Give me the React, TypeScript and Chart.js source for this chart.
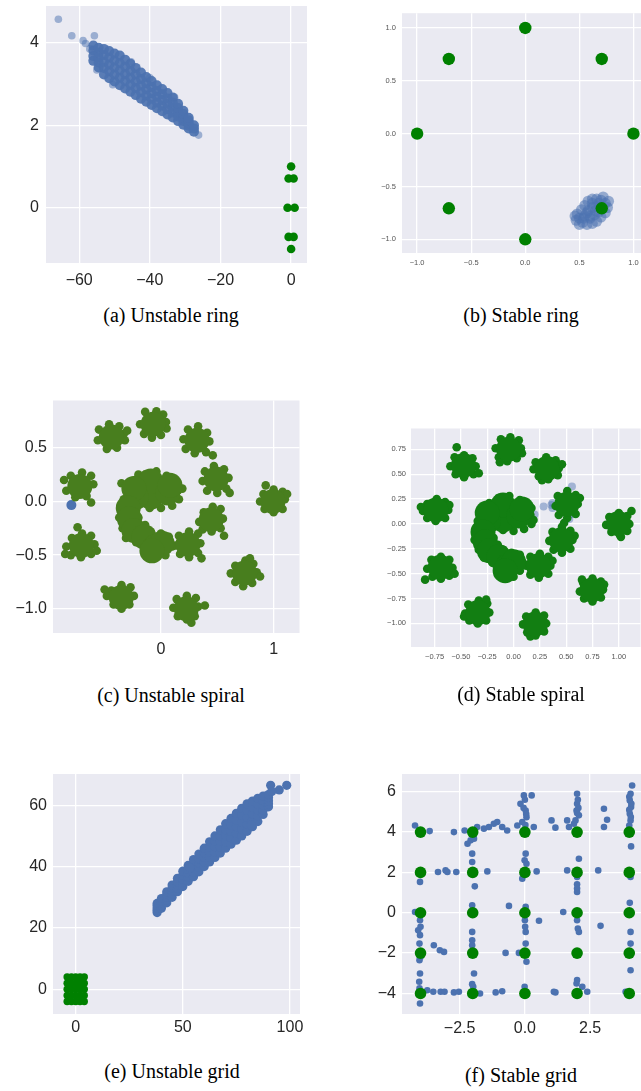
import React, { useEffect, useRef } from 'react';
import { Chart, registerables } from 'chart.js';

Chart.register(...registerables);

type P = [number, number];

// ---------- (a) Unstable ring ----------
const ringModes: P[] = [[1, 0], [0.707, 0.707], [0, 1], [-0.707, 0.707], [-1, 0], [-0.707, -0.707], [0, -1], [0.707, -0.707]];
const aBlueCore: P[] = [
  [-56, 3.56], [-56, 3.68], [-56, 3.81], [-56, 3.93],
  [-54.5, 3.4], [-54.5, 3.52], [-54.5, 3.64], [-54.5, 3.76], [-54.5, 3.88],
  [-53, 3.23], [-53, 3.39], [-53, 3.54], [-53, 3.7], [-53, 3.85],
  [-51.5, 3.14], [-51.5, 3.31], [-51.5, 3.47], [-51.5, 3.64], [-51.5, 3.8],
  [-50, 3.06], [-50, 3.23], [-50, 3.4], [-50, 3.57], [-50, 3.74],
  [-48.5, 2.97], [-48.5, 3.15], [-48.5, 3.33], [-48.5, 3.51], [-48.5, 3.69],
  [-47, 2.89], [-47, 3.07], [-47, 3.24], [-47, 3.42], [-47, 3.59],
  [-45.5, 2.81], [-45.5, 2.98], [-45.5, 3.15], [-45.5, 3.32], [-45.5, 3.49],
  [-44, 2.73], [-44, 2.9], [-44, 3.06], [-44, 3.23], [-44, 3.39],
  [-42.5, 2.64], [-42.5, 2.8], [-42.5, 2.96], [-42.5, 3.12], [-42.5, 3.28],
  [-41, 2.57], [-41, 2.72], [-41, 2.87], [-41, 3.02], [-41, 3.17],
  [-39.5, 2.49], [-39.5, 2.64], [-39.5, 2.78], [-39.5, 2.93], [-39.5, 3.07],
  [-38, 2.41], [-38, 2.55], [-38, 2.69], [-38, 2.83], [-38, 2.97],
  [-36.5, 2.34], [-36.5, 2.48], [-36.5, 2.61], [-36.5, 2.75], [-36.5, 2.88],
  [-35, 2.26], [-35, 2.39], [-35, 2.52], [-35, 2.65], [-35, 2.78],
  [-33.5, 2.19], [-33.5, 2.31], [-33.5, 2.43], [-33.5, 2.55], [-33.5, 2.67],
  [-32, 2.1], [-32, 2.21], [-32, 2.31], [-32, 2.42], [-32, 2.52],
  [-30.5, 2.01], [-30.5, 2.1], [-30.5, 2.18], [-30.5, 2.27], [-30.5, 2.35],
  [-29, 1.92], [-29, 1.99], [-29, 2.05], [-29, 2.12], [-29, 2.18],
  [-27.5, 1.84], [-27.5, 1.92], [-27.5, 2.0],
];
const aBlueSparse: P[] = [
  [-65.9, 4.57], [-62.1, 4.17], [-58.9, 4.05], [-58.2, 3.98], [-55.7, 4.17], [-55, 3.34],
  [-45.3, 3.54], [-26.2, 1.76], [-57, 3.85], [-40, 3.15], [-33, 2.68], [-50.5, 2.98],
];

// ---------- (b) Stable ring ----------
const bBlue: P[] = [
  [0.5, -0.8], [0.48, -0.76], [0.52, -0.72], [0.55, -0.68], [0.58, -0.64], [0.62, -0.62], [0.66, -0.62],
  [0.7, -0.63], [0.74, -0.66], [0.76, -0.7], [0.74, -0.75], [0.7, -0.79], [0.66, -0.83], [0.62, -0.85],
  [0.57, -0.86], [0.53, -0.84], [0.55, -0.78], [0.58, -0.73], [0.62, -0.7], [0.66, -0.69], [0.68, -0.74],
  [0.64, -0.77], [0.6, -0.8], [0.57, -0.75], [0.62, -0.66], [0.7, -0.7], [0.65, -0.73], [0.6, -0.78],
  [0.54, -0.8], [0.46, -0.78], [0.68, -0.66], [0.72, -0.6], [0.47, -0.82], [0.5, -0.86], [0.77, -0.64],
];

// ---------- (c) Unstable spiral ----------
const cGreenCore: P[] = [
  [-0.07, 0.72], [-0.44, 0.6], [0.32, 0.57], [-0.72, 0.14], [0.49, 0.21], [0.994, 0.0], [0.447, -0.17],
  [-0.706, -0.41], [0.24, -0.4], [0.743, -0.667], [-0.352, -0.894], [0.225, -1.0],
  [-0.16, 0.12], [-0.02, 0.12], [-0.09, 0.04], [-0.09, 0.19], [0.06, 0.08], [-0.22, 0.04], [-0.24, 0.12], [0.08, 0.15],
  [-0.29, -0.06], [-0.28, -0.16], [-0.24, -0.27], [-0.15, -0.33], [-0.05, -0.42], [0.01, -0.39], [-0.08, -0.46],
];
const cGreenEdge: P[] = [
  [0.045, 0.74], [0.02, 0.81], [-0.04, 0.84], [-0.14, 0.835], [-0.185, 0.72], [-0.15, 0.63], [-0.08, 0.595], [0.0, 0.62], [0.05, 0.68],
  [-0.33, 0.63], [-0.3, 0.66], [-0.37, 0.7], [-0.46, 0.72], [-0.55, 0.67], [-0.56, 0.57], [-0.48, 0.49], [-0.39, 0.5], [-0.32, 0.57],
  [0.43, 0.56], [0.41, 0.64], [0.33, 0.7], [0.24, 0.67], [0.2, 0.58], [0.22, 0.49], [0.3, 0.45], [0.4, 0.46], [0.46, 0.43],
  [-0.6, 0.16], [-0.62, 0.24], [-0.7, 0.27], [-0.8, 0.24], [-0.86, 0.2], [-0.84, 0.1], [-0.76, 0.04], [-0.66, 0.05], [-0.62, -0.01],
  [0.6, 0.22], [0.56, 0.3], [0.47, 0.33], [0.39, 0.28], [0.37, 0.19], [0.41, 0.1], [0.5, 0.08], [0.58, 0.12], [0.61, 0.08],
  [1.1, 0.02], [1.08, 0.09], [1.0, 0.11], [0.91, 0.07], [0.88, 0.0], [0.92, -0.07], [1.0, -0.1], [1.08, -0.07], [0.93, 0.15], [1.12, 0.07],
  [0.55, -0.16], [0.53, -0.07], [0.46, -0.05], [0.38, -0.1], [0.34, -0.19], [0.37, -0.26], [0.45, -0.28], [0.53, -0.25], [0.56, -0.32],
  [-0.59, -0.4], [-0.62, -0.32], [-0.7, -0.3], [-0.79, -0.34], [-0.84, -0.42], [-0.8, -0.5], [-0.71, -0.52], [-0.62, -0.49], [-0.57, -0.46], [-0.74, -0.24], [-0.85, -0.49],
  [0.35, -0.39], [0.33, -0.3], [0.25, -0.28], [0.16, -0.32], [0.13, -0.41], [0.17, -0.49], [0.25, -0.52], [0.33, -0.48], [0.36, -0.53],
  [0.85, -0.66], [0.82, -0.58], [0.75, -0.55], [0.66, -0.6], [0.62, -0.67], [0.66, -0.75], [0.73, -0.79], [0.81, -0.76], [0.88, -0.7], [0.79, -0.53],
  [-0.24, -0.88], [-0.27, -0.8], [-0.35, -0.78], [-0.44, -0.83], [-0.48, -0.88], [-0.42, -0.96], [-0.35, -1.0], [-0.28, -0.96], [-0.5, -0.82],
  [0.33, -0.98], [0.31, -0.9], [0.23, -0.88], [0.14, -0.91], [0.11, -0.99], [0.15, -1.07], [0.23, -1.1], [0.3, -1.07], [0.39, -0.97], [0.27, -1.13],
  [0.15, 0.1], [0.12, 0.18], [0.05, 0.24], [-0.04, 0.28], [-0.14, 0.25], [-0.23, 0.2], [-0.3, 0.12], [-0.33, 0.02], [0.16, 0.02],
  [0.1, -0.04], [0.0, -0.06], [-0.1, -0.06], [0.19, 0.12], [-0.35, 0.17], [-0.2, 0.25],
  [-0.36, -0.05], [-0.37, -0.15], [-0.34, -0.25], [-0.31, -0.34], [-0.22, -0.38], [-0.14, -0.4], [-0.13, -0.48], [-0.05, -0.52],
  [0.04, -0.5], [0.1, -0.42], [0.07, -0.33], [0.0, -0.3], [-0.09, -0.28], [-0.14, -0.22], [-0.2, -0.15],
];
const cBlue: P[] = [[-0.795, -0.034]];

// ---------- (d) Stable spiral ----------
const dGreenCore: P[] = [
  [-0.047, 0.751], [-0.475, 0.588], [0.317, 0.556], [-0.737, 0.14], [0.507, 0.198], [0.997, 0.003], [0.453, -0.16],
  [-0.696, -0.436], [0.237, -0.42], [0.744, -0.664], [-0.338, -0.891], [0.206, -1.005],
  [-0.17, 0.12], [-0.03, 0.12], [-0.1, 0.04], [-0.1, 0.19], [0.05, 0.08], [-0.24, 0.03], [-0.25, 0.11], [0.08, 0.15],
  [-0.29, -0.08], [-0.27, -0.18], [-0.23, -0.27], [-0.14, -0.33], [-0.05, -0.42], [0.0, -0.38], [-0.08, -0.47],
];
const dGreenEdge: P[] = [
  [0.07, 0.76], [0.05, 0.84], [-0.03, 0.87], [-0.12, 0.85], [-0.17, 0.76], [-0.14, 0.67], [-0.06, 0.63], [0.03, 0.66], [-0.13, 0.62], [0.08, 0.71],
  [-0.36, 0.58], [-0.39, 0.66], [-0.47, 0.69], [-0.56, 0.67], [-0.6, 0.58], [-0.55, 0.5], [-0.47, 0.47], [-0.38, 0.5], [-0.54, 0.77], [-0.33, 0.51],
  [0.43, 0.56], [0.4, 0.64], [0.31, 0.67], [0.21, 0.62], [0.19, 0.55], [0.24, 0.48], [0.33, 0.45], [0.42, 0.49], [0.46, 0.6], [0.27, 0.44],
  [-0.62, 0.14], [-0.65, 0.22], [-0.73, 0.25], [-0.82, 0.2], [-0.86, 0.13], [-0.82, 0.06], [-0.74, 0.03], [-0.65, 0.06], [-0.88, 0.17], [-0.61, 0.19],
  [0.61, 0.2], [0.59, 0.29], [0.51, 0.33], [0.42, 0.28], [0.4, 0.18], [0.43, 0.09], [0.51, 0.06], [0.59, 0.1], [0.63, 0.26], [0.48, 0.01],
  [1.1, 0.0], [1.08, 0.08], [1.0, 0.11], [0.91, 0.07], [0.88, -0.01], [0.93, -0.08], [1.01, -0.11], [1.08, -0.07], [1.12, 0.13], [1.02, -0.13],
  [0.56, -0.16], [0.54, -0.07], [0.46, -0.03], [0.37, -0.08], [0.34, -0.17], [0.38, -0.26], [0.46, -0.29], [0.54, -0.25], [0.58, -0.12],
  [-0.58, -0.44], [-0.61, -0.36], [-0.69, -0.33], [-0.78, -0.36], [-0.82, -0.45], [-0.77, -0.53], [-0.69, -0.55], [-0.61, -0.52], [-0.84, -0.56], [-0.56, -0.5],
  [0.35, -0.42], [0.33, -0.33], [0.25, -0.3], [0.16, -0.33], [0.12, -0.42], [0.16, -0.51], [0.24, -0.54], [0.33, -0.5], [0.37, -0.37],
  [0.85, -0.66], [0.83, -0.58], [0.75, -0.55], [0.66, -0.59], [0.63, -0.68], [0.67, -0.75], [0.75, -0.78], [0.83, -0.74], [0.86, -0.61], [0.65, -0.56],
  [-0.23, -0.89], [-0.25, -0.8], [-0.33, -0.77], [-0.43, -0.81], [-0.46, -0.9], [-0.42, -0.97], [-0.34, -1.0], [-0.26, -0.97], [-0.47, -0.93], [-0.26, -0.76],
  [0.31, -1.0], [0.29, -0.92], [0.21, -0.89], [0.12, -0.93], [0.09, -1.01], [0.13, -1.09], [0.21, -1.12], [0.29, -1.08], [0.16, -1.13],
  [0.16, 0.09], [0.13, 0.18], [0.06, 0.24], [-0.04, 0.28], [-0.14, 0.26], [-0.23, 0.21], [-0.3, 0.13], [-0.34, 0.03], [-0.36, -0.08],
  [0.17, 0.0], [0.1, -0.05], [0.0, -0.07], [-0.1, -0.06], [0.17, 0.16], [0.19, 0.04],
  [-0.36, -0.06], [-0.37, -0.16], [-0.33, -0.26], [-0.28, -0.34], [-0.2, -0.39], [-0.14, -0.45], [-0.09, -0.54], [0.0, -0.53],
  [0.06, -0.47], [0.09, -0.39], [0.06, -0.31], [-0.02, -0.29], [-0.1, -0.26], [-0.15, -0.21], [-0.19, -0.14],
];
const dBlue: P[] = [
  [0.555, 0.377], [0.285, 0.175], [0.37, 0.21], [0.37, 0.16], [0.36, 0.19], [0.2, 0.094], [0.51, 0.06], [0.55, 0.1], [0.53, 0.05],
];

// ---------- (e) Unstable grid ----------
const gridModes: P[] = [
  [-4, -4], [-4, -2], [-4, 0], [-4, 2], [-4, 4],
  [-2, -4], [-2, -2], [-2, 0], [-2, 2], [-2, 4],
  [0, -4], [0, -2], [0, 0], [0, 2], [0, 4],
  [2, -4], [2, -2], [2, 0], [2, 2], [2, 4],
  [4, -4], [4, -2], [4, 0], [4, 2], [4, 4],
];
const eBlue: P[] = [
  [38, 25], [38, 25.8], [38, 26.5], [38, 27.3], [38, 28],
  [40, 26.4], [40, 27.2], [40, 28], [40, 28.8], [40, 29.6],
  [42.5, 28.2], [42.5, 29.1], [42.5, 30], [42.5, 30.9], [42.5, 31.8],
  [45, 30], [45, 31], [45, 32], [45, 33], [45, 34],
  [47.5, 31.8], [47.5, 32.9], [47.5, 34], [47.5, 35.1], [47.5, 36.2],
  [50, 33.5], [50, 34.8], [50, 36], [50, 37.2], [50, 38.5],
  [52.5, 35.2], [52.5, 36.5], [52.5, 37.8], [52.5, 39.1], [52.5, 40.4],
  [55, 36.7], [55, 38.1], [55, 39.5], [55, 40.9], [55, 42.3],
  [57.5, 38.3], [57.5, 39.8], [57.5, 41.2], [57.5, 42.6], [57.5, 44.1],
  [60, 40], [60, 41.5], [60, 43], [60, 44.5], [60, 46],
  [62.5, 41.5], [62.5, 43.1], [62.5, 44.8], [62.5, 46.4], [62.5, 48.1],
  [65, 43], [65, 44.8], [65, 46.5], [65, 48.3], [65, 50],
  [67.5, 44.4], [67.5, 46.3], [67.5, 48.2], [67.5, 50.1], [67.5, 52],
  [70, 46], [70, 48], [70, 50], [70, 52], [70, 54],
  [72.5, 47.3], [72.5, 49.4], [72.5, 51.5], [72.5, 53.6], [72.5, 55.7],
  [75, 48.6], [75, 50.8], [75, 53], [75, 55.2], [75, 57.4],
  [77.5, 50], [77.5, 52.3], [77.5, 54.5], [77.5, 56.8], [77.5, 59],
  [80, 51.5], [80, 53.8], [80, 56], [80, 58.3], [80, 60.5],
  [82.5, 53], [82.5, 55.1], [82.5, 57.2], [82.5, 59.3], [82.5, 61.4],
  [85, 54.7], [85, 56.6], [85, 58.5], [85, 60.4], [85, 62.3],
  [87.5, 57], [87.5, 58.5], [87.5, 60], [87.5, 61.5], [87.5, 63],
  [90, 59.5], [90, 60.5], [90, 61.5], [90, 62.5], [90, 63.5],
  [91, 66.5], [95, 65], [98.5, 66.5], [91.5, 64.5], [82, 53.6], [53.3, 39.6],
];

// ---------- (f) Stable grid ----------
const fBlue: P[] = [
  [-4.21, 4.33], [-3.65, 4.05], [-2.72, 4.0], [-2.31, 4.08], [-1.83, 4.25], [-1.57, 4.17], [-1.38, 4.25], [-1.19, 4.41],
  [-1.06, 4.5], [-0.87, 4.25], [-0.68, 4.08], [-2.2, 3.42], [-2.08, 3.59], [-1.95, 3.67], [-2.02, 2.93], [-2.02, 2.52], [-1.92, 1.31],
  [-0.17, 5.4], [-0.04, 5.82], [0.03, 5.07], [0.06, 4.74], [-0.1, 4.5], [0.26, 5.82], [-0.29, 4.33], [0.34, 4.25],
  [0.0, 5.6], [-0.05, 5.2], [0.05, 4.9], [0.02, 4.35],
  [1.02, 4.58], [1.17, 4.22], [1.62, 4.58], [1.69, 4.25],
  [2.0, 5.9], [2.0, 5.4], [1.98, 5.07], [2.07, 4.83], [1.94, 4.58], [1.88, 4.41], [2.03, 5.6], [2.05, 5.2], [2.0, 4.95],
  [3.03, 5.16], [3.15, 4.61], [3.03, 4.25],
  [4.11, 6.31], [4.05, 5.9], [4.02, 5.57], [4.07, 5.24], [4.02, 4.91], [4.05, 4.58], [4.0, 4.33], [4.07, 3.29],
  [4.0, 5.75], [4.08, 5.4], [4.0, 5.1], [4.06, 4.75],
  [-4.02, 1.53], [-3.33, 2.02], [-3.04, 2.1], [-2.97, 2.02], [-2.63, 2.02], [-1.44, 2.05],
  [0.03, 2.93], [-0.01, 2.6], [0.06, 2.43], [-0.1, 1.69], [0.45, 2.05],
  [1.62, 2.1], [2.07, 2.68], [2.0, 1.77], [2.0, 1.41], [2.0, 1.2], [2.0, 1.03], [2.81, 2.1], [4.05, 1.77],
  [-4.21, 0.04], [-4.02, -0.37], [-4.0, -0.7], [-4.09, -0.87], [-4.02, -1.11], [-4.04, -1.53], [-4.0, -2.19], [-4.04, -2.35],
  [-2.02, 0.37], [-2.02, -0.95], [-2.02, -1.36], [-2.02, -1.61], [-0.61, 0.34],
  [0.03, 0.29], [0.0, -0.37], [0.01, -0.7], [0.03, -0.95], [0.03, -1.53], [0.06, -2.43], [0.54, -0.4], [1.47, 0.04],
  [2.0, -0.37], [2.03, -0.78], [2.07, -0.95], [2.9, -0.65], [4.02, 0.49], [4.05, -0.95], [4.05, -1.53],
  [-3.49, -1.61], [-3.26, -1.86], [-3.1, -1.94], [-0.74, -1.99], [-0.23, -1.99], [4.05, -2.85],
  [-4.02, -3.01], [-4.05, -3.42], [-4.04, -3.75], [-4.02, -4.5], [-3.74, -3.84], [-3.51, -3.92], [-3.23, -3.92], [-3.08, -3.92],
  [-2.72, -3.95], [-2.53, -3.92], [-1.95, -3.01], [-2.02, -3.54], [-1.98, -3.67], [-1.72, -4.0], [-1.12, -3.95], [-0.87, -3.89],
  [-0.01, -3.67], [1.11, -3.92], [1.17, -3.95], [2.0, -3.34], [1.98, -3.51], [2.2, -3.67], [2.39, -3.92], [3.86, -3.92],
];

// ---------- tick labels ----------
const aXTicks = [-60, -40, -20, 0];
const aYTicks = [0, 2, 4];
const bTicks = [-1, -0.5, 0, 0.5, 1];
const cXTicks = [0, 1];
const cYTicks = [-1, -0.5, 0, 0.5];
const dXTicks = [-0.75, -0.5, -0.25, 0, 0.25, 0.5, 0.75, 1];
const dYTicks = [-1, -0.75, -0.5, -0.25, 0, 0.25, 0.5, 0.75];
const eXTicks = [0, 50, 100];
const eYTicks = [0, 20, 40, 60];
const fXTicks = [-2.5, 0, 2.5];
const fYTicks = [-4, -2, 0, 2, 4, 6];

const captions = ['(a) Unstable ring', '(b) Stable ring', '(c) Unstable spiral', '(d) Stable spiral', '(e) Unstable grid', '(f) Stable grid'];

const BLUE = '#4C72B0';
const GREEN = '#008000';
const BG = '#EAEAF2';

type DS = { data: P[]; color: string; radius: number };
type Cfg = {
  plot: { l: number; t: number; r: number; b: number };
  x: [number, number];
  y: [number, number];
  xTicks: number[];
  yTicks: number[];
  decX: number;
  decY: number;
  font: number;
  tickColor: string;
  xPad: number;
  yPad: number;
  sets: DS[]; // first drawn on top
  caption: string;
  cap: [number, number];
};

const BIG = 16;
const SMALL = 7.5;

const panels: Cfg[] = [
  {
    plot: { l: 46, t: 6, r: 307, b: 263 }, x: [-69.4, 4.5], y: [-1.34, 4.89],
    xTicks: aXTicks, yTicks: aYTicks, decX: 0, decY: 0, font: BIG, tickColor: '#262626', xPad: 8, yPad: 7,
    sets: [
      { data: ringModes, color: GREEN, radius: 4.3 },
      { data: aBlueSparse, color: 'rgba(76,114,176,0.5)', radius: 3.8 },
      { data: aBlueCore, color: 'rgba(76,114,176,0.92)', radius: 5 },
    ],
    caption: captions[0], cap: [171, 315],
  },
  {
    plot: { l: 402, t: 13, r: 641, b: 253 }, x: [-1.14, 1.07], y: [-1.13, 1.14],
    xTicks: bTicks, yTicks: bTicks, decX: 1, decY: 1, font: SMALL, tickColor: '#555555', xPad: 5, yPad: 6,
    sets: [
      { data: ringModes, color: GREEN, radius: 6.2 },
      { data: bBlue, color: 'rgba(76,114,176,0.55)', radius: 5.5 },
    ],
    caption: captions[1], cap: [521, 315],
  },
  {
    plot: { l: 53, t: 394, r: 300, b: 633 }, x: [-0.958, 1.23], y: [-1.226, 0.941],
    xTicks: cXTicks, yTicks: cYTicks, decX: 0, decY: 1, font: BIG, tickColor: '#262626', xPad: 7, yPad: 6,
    sets: [
      { data: cGreenCore, color: '#487E1E', radius: 12.5 },
      { data: cGreenEdge, color: '#487E1E', radius: 4.3 },
      { data: cBlue, color: BLUE, radius: 5 },
    ],
    caption: captions[2], cap: [171, 695],
  },
  {
    plot: { l: 411, t: 422, r: 641, b: 647 }, x: [-0.974, 1.206], y: [-1.237, 0.959],
    xTicks: dXTicks, yTicks: dYTicks, decX: 2, decY: 2, font: SMALL, tickColor: '#555555', xPad: 5, yPad: 5,
    sets: [
      { data: dGreenCore, color: '#127E12', radius: 12.5 },
      { data: dGreenEdge, color: '#127E12', radius: 4.3 },
      { data: dBlue, color: 'rgba(76,114,176,0.45)', radius: 4 },
    ],
    caption: captions[3], cap: [521, 694],
  },
  {
    plot: { l: 53, t: 774, r: 300, b: 1014 }, x: [-10.6, 104.7], y: [-8.06, 70.2],
    xTicks: eXTicks, yTicks: eYTicks, decX: 0, decY: 0, font: BIG, tickColor: '#262626', xPad: 4, yPad: 6,
    sets: [
      { data: gridModes, color: GREEN, radius: 3.7 },
      { data: eBlue, color: BLUE, radius: 4.6 },
    ],
    caption: captions[4], cap: [172, 1071],
  },
  {
    plot: { l: 402, t: 774, r: 641, b: 1014 }, x: [-4.71, 4.45], y: [-5.02, 6.88],
    xTicks: fXTicks, yTicks: fYTicks, decX: 1, decY: 0, font: BIG, tickColor: '#262626', xPad: 5, yPad: 6,
    sets: [
      { data: gridModes, color: GREEN, radius: 5.8 },
      { data: fBlue, color: BLUE, radius: 3.3 },
    ],
    caption: captions[5], cap: [521, 1075],
  },
];

const fmt = (v: number, dec: number) => {
  const s = Math.abs(v).toFixed(dec);
  return (v < -1e-9 ? '\u2212' : '') + s;
};

const bgPlugin = {
  id: 'plotBg',
  beforeDraw(chart: any) {
    const { ctx, chartArea } = chart;
    if (!chartArea) return;
    ctx.save();
    ctx.fillStyle = BG;
    ctx.fillRect(chartArea.left, chartArea.top, chartArea.right - chartArea.left, chartArea.bottom - chartArea.top);
    ctx.restore();
  },
};

const ML = 52;
const MB = 40;
const MT = 6;
const MR = 12;

function Panel({ cfg }: { cfg: Cfg }) {
  const ref = useRef<HTMLCanvasElement | null>(null);
  const W = cfg.plot.r - cfg.plot.l + ML + MR;
  const H = cfg.plot.b - cfg.plot.t + MT + MB;
  useEffect(() => {
    if (!ref.current) return;
    const family = "'Liberation Sans', Arial, Helvetica, sans-serif";
    const axis = (ticks: number[], dec: number, pad: number, isX: boolean, range: [number, number]) => ({
      type: 'linear',
      min: range[0],
      max: range[1],
      bounds: 'data',
      position: isX ? 'bottom' : 'left',
      grid: { color: '#ffffff', lineWidth: 1.3, drawTicks: false },
      border: { display: false },
      ticks: {
        padding: pad,
        autoSkip: false,
        maxRotation: 0,
        minRotation: 0,
        color: cfg.tickColor,
        font: { family, size: cfg.font },
        callback: (v: any) => fmt(Number(v), dec),
      },
      afterBuildTicks: (s: any) => {
        s.ticks = ticks.map((value) => ({ value }));
      },
      afterFit: (s: any) => {
        if (isX) {
          s.height = MB;
          s.paddingLeft = 0;
          s.paddingRight = 0;
        } else {
          s.width = ML;
          s.paddingTop = 0;
          s.paddingBottom = 0;
        }
      },
    });
    const chart = new Chart(ref.current, {
      type: 'scatter',
      data: {
        datasets: cfg.sets.map((d, i) => ({
          data: d.data.map(([x, y]) => ({ x, y })),
          backgroundColor: d.color,
          borderWidth: 0,
          pointRadius: d.radius,
          pointHoverRadius: d.radius,
          pointBorderWidth: 0,
          order: i,
        })),
      },
      options: {
        responsive: false,
        animation: false,
        events: [],
        layout: { padding: { top: MT, right: MR, left: 0, bottom: 0 } },
        plugins: { legend: { display: false }, tooltip: { enabled: false } },
        scales: {
          x: axis(cfg.xTicks, cfg.decX, cfg.xPad, true, cfg.x) as any,
          y: axis(cfg.yTicks, cfg.decY, cfg.yPad, false, cfg.y) as any,
        },
      },
      plugins: [bgPlugin],
    } as any);
    return () => chart.destroy();
  }, [cfg]);
  return (
    <>
      <canvas
        ref={ref}
        width={W}
        height={H}
        style={{ position: 'absolute', left: cfg.plot.l - ML, top: cfg.plot.t - MT, width: W, height: H }}
      />
      <div
        style={{
          position: 'absolute',
          left: cfg.cap[0] - 150,
          top: cfg.cap[1] - 12,
          width: 300,
          textAlign: 'center',
          fontFamily: "'Liberation Serif', 'Times New Roman', serif",
          fontSize: 20,
          lineHeight: '24px',
          color: '#000',
          whiteSpace: 'nowrap',
        }}
      >
        {cfg.caption}
      </div>
    </>
  );
}

export default function App() {
  return (
    <div
      style={{
        position: 'absolute',
        left: 0,
        top: 0,
        width: 641,
        height: 1091,
        overflow: 'hidden',
        background: '#ffffff',
      }}
    >
      {panels.map((p, i) => (
        <Panel key={i} cfg={p} />
      ))}
    </div>
  );
}
